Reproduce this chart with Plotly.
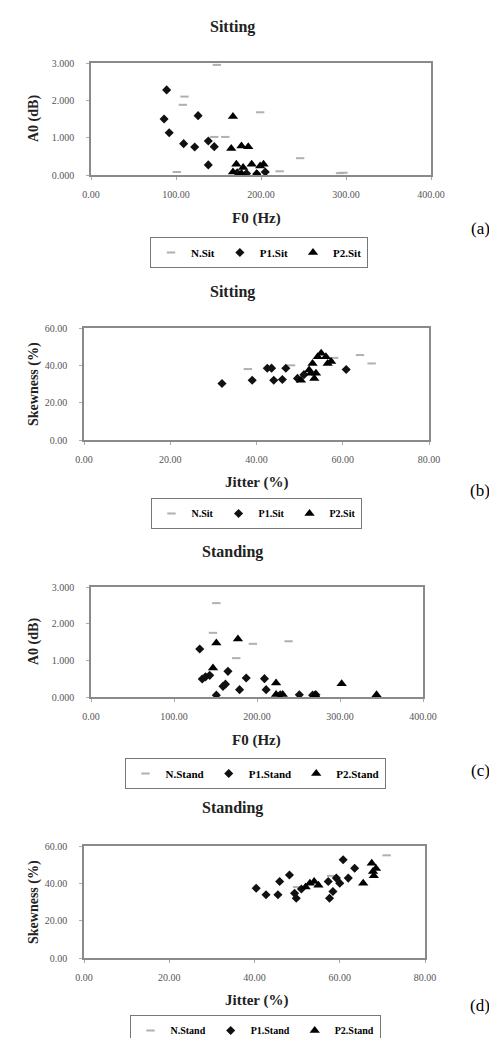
import plotly.graph_objects as go

# The page body adds an 8px margin, so the figure is drawn 8px in from the window's edge.
OFF = 8
W, H = 497 - OFF, 1038 - OFF

# ---------------- data ----------------
# (a) Sitting: F0 (Hz) vs A0 (dB)
n_sit_f0 = [148, 110, 108, 145, 158, 199, 246, 222, 297, 101, 293]
n_sit_a0 = [2.95, 2.10, 1.88, 1.02, 1.02, 1.68, 0.45, 0.10, 0.06, 0.08, 0.05]
p1_sit_f0 = [89, 86, 92, 109, 122, 126, 138, 145, 138, 172, 183, 195, 205]
p1_sit_a0 = [2.28, 1.50, 1.13, 0.84, 0.75, 1.59, 0.91, 0.76, 0.27, 0.06, 0.04, 0.03, 0.08]
p2_sit_f0 = [167, 165, 177, 185, 171, 179, 189, 199, 203, 167, 177, 195]
p2_sit_a0 = [1.57, 0.71, 0.78, 0.76, 0.29, 0.20, 0.29, 0.24, 0.29, 0.08, 0.04, 0.03]

# (b) Sitting: Jitter (%) vs Skewness (%)
n_sit_j = [64, 66.7, 48, 38, 58]
n_sit_s = [45.5, 41, 40, 38, 44]
p1_sit_j = [32, 39, 42.5, 43.5, 44, 46, 46.8, 49.5, 51, 60.8]
p1_sit_s = [30.3, 32, 38.4, 38.5, 32, 32.4, 38.4, 33, 35, 37.8]
p2_sit_j = [52.2, 52.6, 53, 53.8, 54.2, 55, 56.1, 56.5, 57.3, 53.4, 50.3]
p2_sit_s = [37.5, 35.7, 41, 35.7, 44.6, 46.5, 44.6, 41, 42, 33, 32]

# (c) Standing: F0 (Hz) vs A0 (dB)
n_std_f0 = [151, 238, 175, 147, 195]
n_std_a0 = [2.56, 1.52, 1.06, 1.75, 1.45]
p1_std_f0 = [131, 165, 134, 138, 143, 159, 151, 179, 187, 209, 211, 228, 251, 267, 271, 162]
p1_std_a0 = [1.31, 0.70, 0.49, 0.55, 0.59, 0.29, 0.05, 0.20, 0.52, 0.50, 0.20, 0.06, 0.06, 0.05, 0.06, 0.35]
p2_std_f0 = [151, 177, 147, 223, 223, 231, 302, 344, 270]
p2_std_a0 = [1.47, 1.58, 0.79, 0.38, 0.07, 0.07, 0.36, 0.06, 0.06]

# (d) Standing: Jitter (%) vs Skewness (%)
n_std_j = [71, 58, 50]
n_std_s = [55, 44, 38]
p1_std_j = [40.4, 42.7, 45.5, 45.9, 48.2, 49.4, 49.8, 51, 57.3, 57.6, 58.4, 59.2, 60, 60.8, 62, 63.5]
p1_std_s = [37.4, 33.9, 33.9, 41, 44.5, 34.7, 32, 37, 41, 32, 35.6, 42.8, 40.1, 52.6, 42.8, 48.1]
p2_std_j = [52, 53, 54, 55, 65.5, 67.5, 67.8, 68.5, 68]
p2_std_s = [38, 40, 41, 39, 40.1, 50.8, 46.3, 48, 44]

titles = ["Sitting", "Sitting", "Standing", "Standing"]
legend_names = [["N.Sit", "P1.Sit", "P2.Sit"], ["N.Sit", "P1.Sit", "P2.Sit"],
                ["N.Stand", "P1.Stand", "P2.Stand"], ["N.Stand", "P1.Stand", "P2.Stand"]]
panel_labels = ["(a)", "(b)", "(c)", "(d)"]

# ---------------- layout helpers (window pixels -> paper fractions) ----------------
def px(x):
    return (x - OFF) / W

def py(y):
    return 1 - (y - OFF) / H

# plot boxes in window pixels: (left, right, top, bottom)
boxes = [(91, 431, 63, 175), (84, 429, 328, 440), (91, 423, 587, 697), (84, 425, 846, 958)]
title_y = [27, 292, 552, 808]
xtitle_y = [218, 482, 740, 1000]
legend_top = [237, 498, 758, 1015]
legend_cx = [259, 256, 255, 255]
legend_font = [11, 10, 11, 10]
label_y = [229, 490, 770, 1005]

SERIF = "Liberation Serif, Times New Roman, serif"

fig = go.Figure()

series = [
    (n_sit_f0, n_sit_a0, p1_sit_f0, p1_sit_a0, p2_sit_f0, p2_sit_a0),
    (n_sit_j, n_sit_s, p1_sit_j, p1_sit_s, p2_sit_j, p2_sit_s),
    (n_std_f0, n_std_a0, p1_std_f0, p1_std_a0, p2_std_f0, p2_std_a0),
    (n_std_j, n_std_s, p1_std_j, p1_std_s, p2_std_j, p2_std_s),
]

layout = dict(
    width=W, height=H, margin=dict(l=0, r=0, t=0, b=0, autoexpand=False),
    paper_bgcolor="white", plot_bgcolor="white",
    font=dict(family=SERIF, color="black"),
    annotations=[],
)

def note(text, x, y, size, color="#222", angle=0):
    return dict(text=text, x=px(x), y=py(y), xref="paper", yref="paper", showarrow=False,
                xanchor="center", yanchor="middle", textangle=angle,
                font=dict(family=SERIF, size=size, color=color))

for i, (nx, ny, ax_, ay, bx, by) in enumerate(series):
    k = "" if i == 0 else str(i + 1)
    xa, ya = "x" + k, "y" + k
    leg = "legend" + k
    names = legend_names[i]
    fig.add_trace(go.Scatter(x=nx, y=ny, mode="markers", name=names[0], xaxis=xa, yaxis=ya, legend=leg,
                             marker=dict(symbol="line-ew", size=6, color="#b0b0b0",
                                         line=dict(color="#b0b0b0", width=2))))
    fig.add_trace(go.Scatter(x=ax_, y=ay, mode="markers", name=names[1], xaxis=xa, yaxis=ya, legend=leg,
                             marker=dict(symbol="diamond", size=7, color="#111")))
    fig.add_trace(go.Scatter(x=bx, y=by, mode="markers", name=names[2], xaxis=xa, yaxis=ya, legend=leg,
                             marker=dict(symbol="triangle-up", size=9, color="#000")))

    l, r, t, b = boxes[i]
    is_f0 = i in (0, 2)
    axis_common = dict(showgrid=False, zeroline=False, showline=True, mirror=True,
                       linecolor="#8a8a8a", linewidth=1.5, ticks="outside", ticklen=3,
                       tickcolor="#aaa", tickfont=dict(family=SERIF, size=10, color="#555"))
    layout["xaxis" + k] = dict(domain=[px(l), px(r)], anchor=ya,
                               range=[0, 400] if is_f0 else [0, 80], dtick=100 if is_f0 else 20,
                               tickformat=".2f", ticklabelstandoff=6, **axis_common)
    layout["yaxis" + k] = dict(domain=[py(b), py(t)], anchor=xa,
                               range=[0, 3] if is_f0 else [0, 60], dtick=1 if is_f0 else 20,
                               tickformat=".3f" if is_f0 else ".2f", ticklabelstandoff=10, **axis_common)
    layout[leg] = dict(orientation="h", x=px(legend_cx[i]), xanchor="center",
                       y=py(legend_top[i]), yanchor="top", xref="container", yref="container",
                       bordercolor="#777", borderwidth=1, bgcolor="white",
                       font=dict(family=SERIF, size=legend_font[i], color="black", weight="bold"),
                       itemwidth=30, tracegroupgap=0)
    ann = layout["annotations"]
    ann.append(note("<b>%s</b>" % titles[i], 232, title_y[i], 16))
    ann.append(note("<b>%s</b>" % ("F0 (Hz)" if is_f0 else "Jitter (%)"), 257, xtitle_y[i], 15))
    ann.append(note("<b>%s</b>" % ("A0 (dB)" if is_f0 else "Skewness (%)"), 34, (t + b) / 2, 14, angle=-90))
    ann.append(note(panel_labels[i], 480, label_y[i], 17, color="black"))

fig.update_layout(**layout)
fig.write_html("out.html")
